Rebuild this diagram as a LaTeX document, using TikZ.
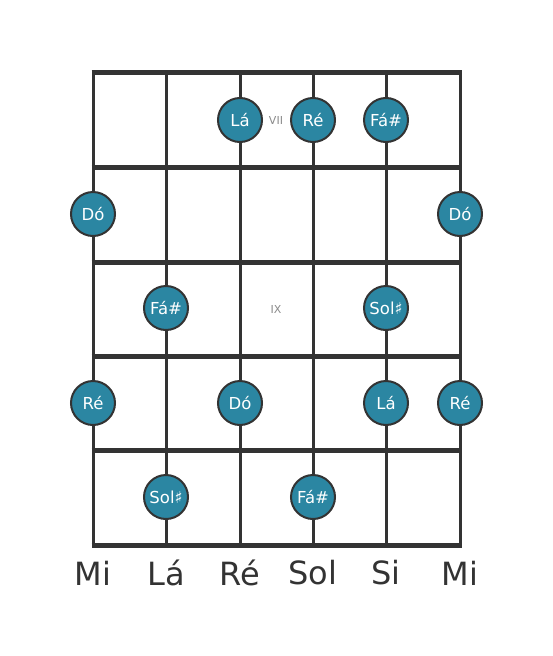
\documentclass[tikz,border=0pt]{standalone}
\usepackage{fontspec}
\setmainfont{DejaVu Sans}
\definecolor{notefill}{HTML}{2B86A2}
\definecolor{wire}{HTML}{333333}
\definecolor{fretnum}{HTML}{8A8A8A}
\begin{document}
\begin{tikzpicture}[x=1pt,y=-1pt]
  \useasboundingbox (0,0) rectangle (553,656);

  % ends of the strings and the frets
  \foreach \s/\x in {1/93,2/166,3/240,4/313,5/386,6/460} {
    \coordinate (t\s) at (\x,72);
    \coordinate (b\s) at (\x,545);
  }
  \foreach \f/\y in {0/72,1/167,2/262,3/356,4/450,5/545} {
    \coordinate (l\f) at (91.5,\y);
    \coordinate (r\f) at (461.5,\y);
  }

  \begin{scope}[draw=wire]
    \foreach \s in {1,...,6}
      \draw[wire, line width=3pt] (t\s) -- (b\s);
    \foreach \f in {0,...,5}
      \draw[wire, line width=5pt] (l\f) -- (r\f);
  \end{scope}

  % fret numbers
  \begin{scope}[every node/.style={text=fretnum, font=\fontsize{11}{12}\selectfont}]
    \node (vii) at (276,120) {VII};
    \node (ix)  at (276,309) {IX};
  \end{scope}

  \begin{scope}[every node/.style={circle, draw=wire, line width=2pt, fill=notefill,
      minimum size=44pt, inner sep=0pt, text=white, font=\fontsize{16.5}{18}\selectfont}]
    \node (n1)  at (240,120) {Lá};
    \node (n2)  at (313,120) {Ré};
    \node (n3)  at (386,120) {Fá\#};
    \node (n4)  at (93,214)  {Dó};
    \node (n5)  at (460,214) {Dó};
    \node (n6)  at (166,308) {Fá\#};
    \node (n7)  at (386,308) {Sol♯};
    \node (n8)  at (93,403)  {Ré};
    \node (n9)  at (240,403) {Dó};
    \node (n10) at (386,403) {Lá};
    \node (n11) at (460,403) {Ré};
    \node (n12) at (166,497) {Sol♯};
    \node (n13) at (313,497) {Fá\#};
  \end{scope}

  % string names
  \begin{scope}[every node/.style={text=wire, font=\fontsize{32}{34}\selectfont}]
    \node (m1) at (93,573)  {Mi};
    \node (m2) at (166,573) {Lá};
    \node (m3) at (240,573) {Ré};
    \node (m4) at (313,573) {Sol};
    \node (m5) at (386,573) {Si};
    \node (m6) at (460,573) {Mi};
  \end{scope}

\end{tikzpicture}
\end{document}
